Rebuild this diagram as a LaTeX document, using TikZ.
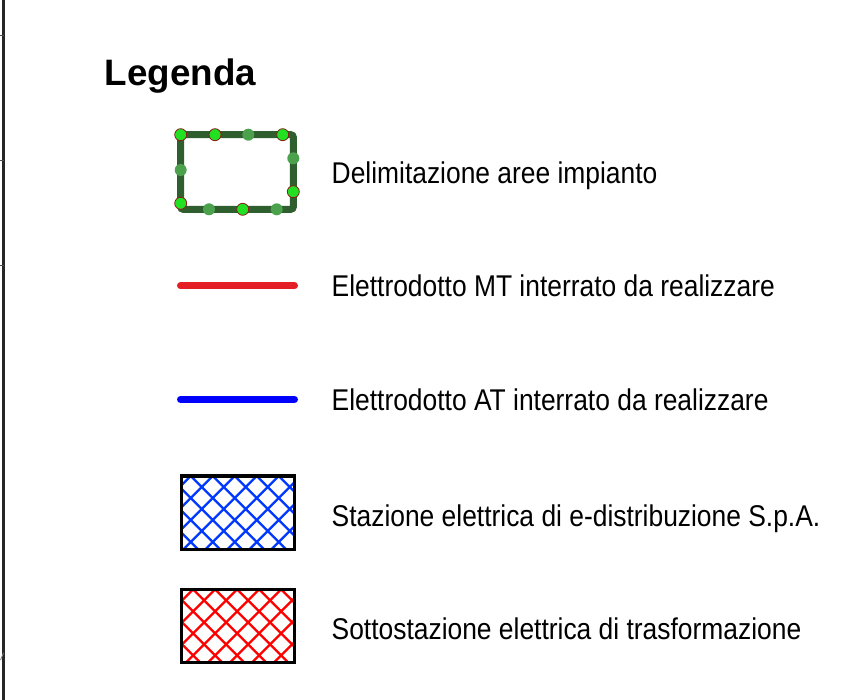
\documentclass[tikz,border=0pt]{standalone}
\usepackage{fontspec}
\setmainfont{Liberation Sans}
\newfontfamily\lbl[FakeStretch=0.88]{Liberation Sans}
\usetikzlibrary{calc}
\definecolor{areagreen}{HTML}{2F5F2F}
\definecolor{dotbright}{HTML}{22E022}
\definecolor{dotmid}{HTML}{4CA24C}
\definecolor{dotrim}{HTML}{8B1A1A}
\definecolor{mtred}{HTML}{E31E24}
\definecolor{atblue}{HTML}{0000FF}
\definecolor{hblue}{HTML}{0038FF}
\definecolor{hred}{HTML}{FF0000}
\tikzset{
  lbltext/.style={anchor=base west, inner sep=0pt, font=\lbl\fontsize{30pt}{36pt}\selectfont},
  titletext/.style={anchor=base west, inner sep=0pt, font=\bfseries\fontsize{36.8pt}{42pt}\selectfont},
  areabox/.style={draw=areagreen, line width=7pt, rounded corners=2.5pt, minimum width=112.6pt, minimum height=74.6pt, inner sep=0pt},
  brightdot/.style={fill=dotbright, draw=dotrim, line width=0.8pt},
  middot/.style={fill=dotmid},
  cableline/.style={line width=7pt, line cap=round},
  hatchbox/.style n args={2}{draw=black, line width=3.4pt, minimum width=112.7pt, minimum height=73.4pt, inner sep=0pt,
    path picture={
      \foreach \k in {-6,...,11}{
        \draw[#1, line width=2.3pt] ([xshift=\k*22pt+#2]path picture bounding box.north west) ++(-120,-120) -- ++(300,300);
        \draw[#1, line width=2.3pt] ([xshift=\k*22pt+#2]path picture bounding box.north west) ++(-180,180) -- ++(300,-300);
      }}},
}
\begin{document}
\begin{tikzpicture}[x=1pt,y=-1pt]
\useasboundingbox[fill=white] (0,0) rectangle (855,700);
% left frame edge
\coordinate (fl1) at (3.5,0);
\coordinate (fl2) at (3.5,700);
\draw[line width=2.4pt, black!85] (fl1) -- (fl2);
\foreach \yy in {35.5,160,265.5}{\draw[line width=0.8pt, black!70] (0,\yy) -- (3.5,\yy);}
\draw[line width=0.8pt, black!50] (0.5,660) -- (3.5,653);

\node[titletext] (title) at (104.5,86) {Legenda};

% area boundary
\node[areabox] (area) at (237,172) {};
\foreach \p in {(180.7,134.7),(215,134.7),(282.7,134.7),(293.3,191.7),(242.7,209.3),(180.7,203.3)}
  {\path[brightdot] \p circle (6pt);}
\foreach \p in {(248.3,134.7),(293.3,158.3),(276.7,209.3),(209,209.3),(180.7,170)}
  {\path[middot] \p circle (6pt);}
\node[lbltext] (t1) at (331.5,183.3) {Delimitazione aree impianto};

% MT line
\coordinate (mt1) at (180.5,286);
\coordinate (mt2) at (294.5,286);
\draw[cableline, mtred] (mt1) -- (mt2);
\node[lbltext] (t2) at (331.5,297) {Elettrodotto MT interrato da realizzare};

% AT line
\coordinate (at1) at (180.5,399.5);
\coordinate (at2) at (294.5,399.5);
\draw[cableline, atblue] (at1) -- (at2);
\node[lbltext] (t3) at (331.5,410.5) {Elettrodotto AT interrato da realizzare};

% hatched boxes
\node[hatchbox={hblue}{9pt}] (stz) at (238,512.7) {};
\node[lbltext] (t4) at (331.5,527) {Stazione elettrica di e-distribuzione S.p.A.};

\node[hatchbox={hred}{11.5pt}] (sst) at (238,626) {};
\node[lbltext] (t5) at (331.5,640) {Sottostazione elettrica di trasformazione};
\end{tikzpicture}
\end{document}
